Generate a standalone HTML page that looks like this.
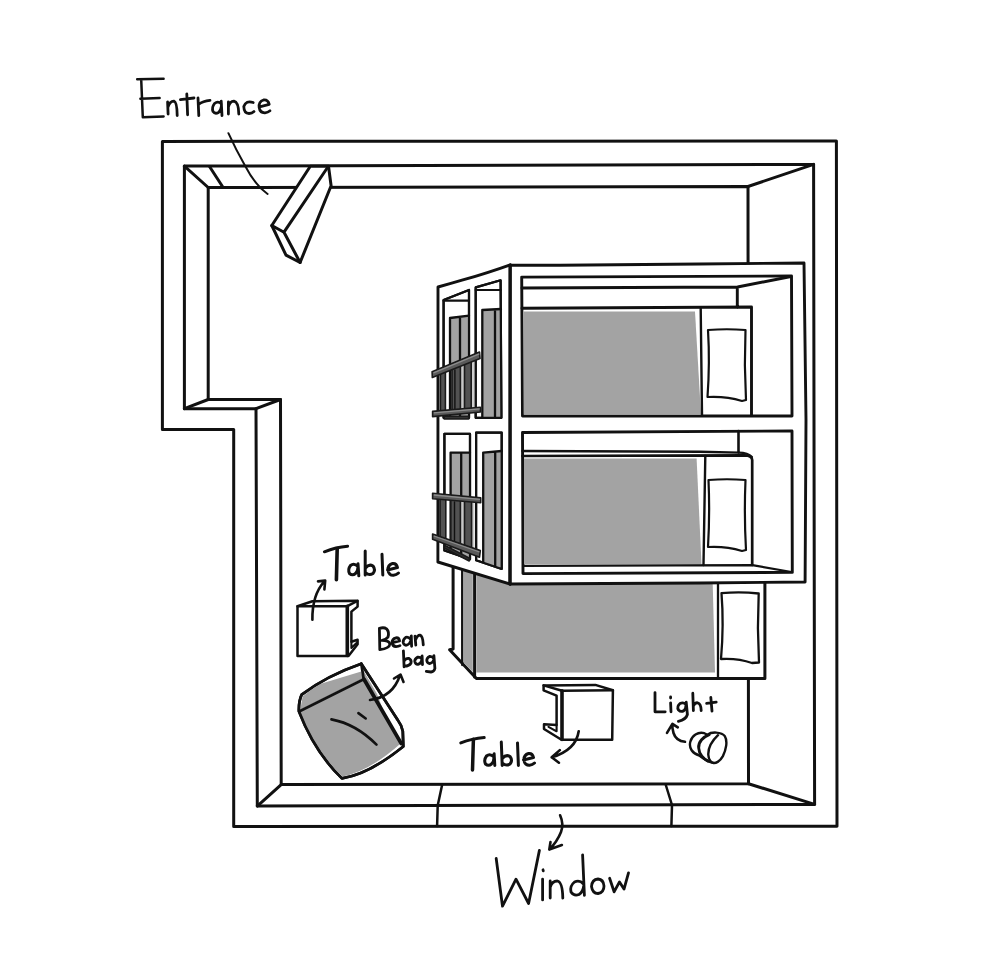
<!DOCTYPE html>
<html><head><meta charset="utf-8">
<style>
html,body{margin:0;padding:0;background:#fff;}
body{width:1000px;height:964px;overflow:hidden;font-family:"Liberation Sans",sans-serif;}
svg{display:block;}
.l{fill:none;stroke:#111;stroke-width:3;stroke-linecap:round;stroke-linejoin:round;}
.w{fill:#fff;stroke:#111;stroke-width:3;stroke-linecap:round;stroke-linejoin:round;}
.g{fill:#a3a3a3;stroke:none;}
.t{fill:none;stroke:#111;stroke-width:2.6;stroke-linecap:round;stroke-linejoin:round;}
.m{fill:none;stroke:#111;stroke-width:2.3;stroke-linecap:round;stroke-linejoin:round;}
.wm{fill:#fff;stroke:#111;stroke-width:2.3;stroke-linecap:round;stroke-linejoin:round;}
.th{fill:none;stroke:#111;stroke-width:2.3;stroke-linecap:round;stroke-linejoin:round;}
.d{fill:#5a5a5a;stroke:#1a1a1a;stroke-width:1.6;stroke-linejoin:round;}
#table1 .l,#table1 .w,#table2 .l,#table2 .w{stroke-width:2.5}
#table1 .m,#table2 .m{stroke-width:2.1}
#light .w,#light .l{stroke-width:2.4}
#bunk .w,#bunk .l{stroke-width:2.9}
#bunk .wm,#bunk .m{stroke-width:2.2}
#beanbag .l,#beanbag .w{stroke-width:2.7}
</style></head><body>
<svg width="1000" height="964" viewBox="0 0 1000 964">
<rect width="1000" height="964" fill="#fff"/>

<!-- WALLS -->
<g id="walls">
<path class="l" d="M162.4,141.4 L836.4,140.9 L837,826.3 L233.7,826.4 V429.5 H162.4 Z"/>
<path class="l" d="M184.4,166.1 L813.6,164.4 L814.6,804.4 L257.3,806.1 L256,408.7 H184.4 Z"/>
<path class="l" d="M208.2,187.5 L748,186.5 L748.5,783.7 L281.2,784.6 L280.5,399.5 H208.2 Z"/>
<path class="l" d="M184.4,166.1 L208.2,187.5 M813.6,164.4 L748,186.5 M814.6,804.4 L748.5,783.7 M257.3,806.1 L281.2,784.6 M184.4,408.7 L208.2,399.5 M256,408.7 L280.5,399.5"/>
<path class="l" d="M209.5,166.5 L222.8,187"/>
<path class="l" style="stroke-width:2.5" d="M442.1,785 L437.7,805.5 L437.1,826 M665.8,785 L672,805 L671.4,826"/>
</g>
<!-- DOOR -->
<g id="door">
<path class="w" d="M310.3,166.2 L328.5,166.2 L331.1,185.7 L300.1,262.5 L286,255.1 L271.8,225.5 Z"/>
<path class="l" d="M327.5,167.5 L284,232.2 L271.8,225.5 M284,232.2 L300.1,262.5"/>
</g>
<!-- THIRD BED -->
<g id="bed3">
<path class="w" d="M453.1,560 V649 L449.6,649.8 L476.4,678.6 H764.9 V580 Z"/>
<path class="g" d="M463.8,562 H472.8 V672 L463.8,663 Z"/>
<path class="g" d="M476.4,568 H712.3 L715,672.5 H476.4 Z"/>
<path class="m" d="M462.2,565 V665"/>
<path class="l" d="M474.6,570 V677"/>
<path class="m" d="M718,584 V678"/>
<path class="m" d="M721.5,593.2 Q740,591.5 758.7,593.5 Q757,628 759,662.5 L752,663 Q738,658 721,659 Q724,625 721.5,593.2 Z"/>
</g>
<!-- BUNK -->
<g id="bunk">
<path class="w" d="M438,287 Q450,283.8 462,280.2 Q488,272.8 510.2,264.8 V584.2 L437.9,562 Z"/>
<path class="w" d="M510.2,265.2 L560,265.2 L700,264 L804,263 L806,420 L805.1,582 L700,583 L510.2,584 Z"/>
<path class="l" d="M510.2,265 L509.9,584.2" style="stroke-width:3"/>
<!-- opening 1 -->
<path class="w" d="M521.7,277.1 L791.5,276 L792,416 H522.5 Z"/>
<path class="l" d="M522,288 L737.5,287 L791,276.5 M737.3,287.5 V307.5 M522,308.2 L751.5,307 V415"/>
<path class="g" d="M523.7,311.5 H695 L701,414.8 H523.7 Z"/>
<path class="m" d="M700.7,308.5 L702,415" style="stroke-width:2.4"/>
<path class="m" d="M708,330 Q727,328.5 745.5,330 Q744,365 746,400 L742,401 Q726,396 707.5,397 Q710,363 708,330 Z"/>
<!-- opening 2 -->
<path class="w" d="M522.5,432.5 L792,431 L792.3,572.4 L523,573.6 Z"/>
<path class="m" d="M738.5,431 V452" style="stroke-width:2.6"/>
<path class="m" d="M522.5,451 L700,451.8 L738.5,452.6" style="stroke-width:2.4"/>
<path class="l" d="M522.5,456 L745,455.4 Q752,455.6 752.2,460 V565" style="stroke-width:2.7"/>
<path class="m" d="M738.5,452.6 Q748,452.8 752,457" style="stroke-width:2.2"/>
<path class="g" d="M524,458.6 H696.6 L701.5,564 H524 Z"/>
<path class="m" d="M705.3,456 L703.5,565" style="stroke-width:2.4"/>
<path class="m" d="M523,565.9 L752.4,565.2 L791.5,572"/>
<path class="m" d="M708.5,480 Q727,478.5 745.5,480 Q744,515 746,550 L742,551 Q726,546 708,547 Q710,513 708.5,480 Z"/>
<!-- side windows -->
<path class="wm" d="M443.6,300 L469,290 V417.8 H443.6 Z"/>
<path class="m" d="M443.6,300.7 H469"/>
<path class="g" d="M450,318 L469,315.7 V417 H450 Z"/>
<path class="th" d="M450,417 V318 L469,315.7 M460,317 V417"/>
<path class="wm" style="fill:none" d="M443.6,300 L469,290 V417.8 H443.6 Z"/>
<path class="wm" d="M475.7,287.4 L500.6,280.3 L501.4,417.8 H475.7 Z"/>
<path class="m" d="M475.7,290 H500.6"/>
<path class="g" d="M482.3,310 L501,309 V417 H482.3 Z"/>
<path class="th" d="M482.3,417 V310 L501,309 M495,310 V417"/>
<path class="wm" style="fill:none" d="M475.7,287.4 L500.6,280.3 L501.4,417.8 H475.7 Z"/>
<path class="wm" d="M444.4,433.8 H470 V559.3 L444.4,550.5 Z"/>
<path class="g" d="M450.6,452.6 H470 V559 L450.6,552.5 Z"/>
<path class="th" d="M450.6,552 V452.6 H470 M461.2,453 V556"/>
<path class="wm" style="fill:none" d="M444.4,433.8 H470 V559.3 L444.4,550.5 Z"/>
<path class="wm" d="M476.1,432.7 H501.7 V569 L476.1,560.2 Z"/>
<path class="g" d="M483.2,452.6 L501.7,451 V568.5 L483.2,562.5 Z"/>
<path class="th" d="M483.2,562 V452.6 L501.7,451 M495.2,452 V566"/>
<path class="wm" style="fill:none" d="M476.1,432.7 H501.7 V569 L476.1,560.2 Z"/>
</g>
<!-- LADDERS -->
<g id="ladders">
<path class="g" style="fill:#cfcfcf" d="M471.2,362 H474.3 V408 H471.2 Z M471.4,503 H474.5 V552 H471.4 Z"/>
<path class="g" style="fill:#c6c6c6" d="M460.4,364 H464.5 V410 H460.4 Z M460.4,500 H464.5 V546 H460.4 Z"/>
<path class="d" style="fill:#525252" d="M440.4,371 H445.4 V413 H440.4 Z M452,366 H460.4 V412 H452 Z M464.5,360 H471.2 V411 H464.5 Z"/>
<path class="th" style="stroke-width:1.4" d="M454.9,370 V411"/>
<path class="d" d="M432.1,371.8 L479.5,352.1 L480,358.6 L432.3,377.5 Z"/>
<path class="d" d="M432.6,411.4 L480.3,407.2 L480.4,412 L432.6,416.6 Z"/>
<path class="d" style="fill:#333" d="M444.2,416.2 H468.7 V419 H444.2 Z"/>
<path class="d" style="fill:#525252" d="M440,497 H445.8 V539 H440 Z M450.8,498 H460.4 V545 H450.8 Z M464.5,499 H471.6 V549 H464.5 Z"/>
<path class="th" style="stroke-width:1.4" d="M454.5,502 V543"/>
<path class="d" d="M432.6,493.3 L480.7,497.9 V502.8 L432.6,498.7 Z"/>
<path class="d" d="M432.6,534 L480.3,550.6 L479.5,557.2 L432.6,539.2 Z"/>
<path class="d" style="fill:#333" d="M444.6,545.2 L469.5,558.2 L469.2,561 L444.4,548 Z"/>
<path d="M433.5,372.9 L479.3,353.9 M433.8,412.9 L479.8,408.9 M433.8,495 L480,499.4 M433.8,536 L479.5,552" style="fill:none;stroke:#8c8c8c;stroke-width:1.3"/>
</g>
<!-- TABLE 1 -->
<g id="table1">
<path class="w" d="M297.5,606.2 L312.4,601.2 L357.6,600.8 V606.6 L351.4,611.6 V641.8 L357.6,639.8 V644.3 L348.5,655.9 H297.5 Z"/>
<path class="l" d="M297.5,606.2 H347.3 M347.3,606.2 L357.4,601"/>
<path class="m" d="M351.4,641.8 V648 L356.5,643"/>
<path class="l" d="M347.3,606.2 V655.5" style="stroke-width:3.6"/>
</g>
<!-- TABLE 2 -->
<g id="table2">
<path class="w" d="M543.6,685.4 L595.3,684.9 L612.9,690.3 L612.2,739.8 H561.5 L544,729 V724.3 L556.6,725 V695.7 L543.6,690.3 Z"/>
<path class="l" d="M543.6,685.4 L562,690.8 L612.9,690.3"/>
<path class="m" d="M556.6,725 V731.3 L548.5,726.8"/>
<path class="l" d="M562,690.8 V739.5" style="stroke-width:3.6"/>
</g>
<!-- BEANBAG -->
<g id="beanbag">
<path class="w" d="M361.3,663.7 Q327,675.5 301.7,694.6 Q298.6,701 298.9,711.3 Q314.6,752.1 341.9,778.4 Q369.2,774.1 403.3,746.5 L402.8,731.2 Q401.5,725 397.9,720.3 Z"/>
<path class="g" d="M299.8,711.3 L363.7,679.3 L400.7,743.5 Q369,771.5 342.3,776.6 Q315.5,751 299.8,711.3 Z"/>
<path class="g" d="M300.3,709.8 L302.6,696.5 Q310,690 320,684 L361.2,671.6 L362.8,678.4 Z"/>
<path class="g" d="M362.3,668.5 L363.9,679 L386,717.5 L377,694 Z"/>
<path class="l" d="M361.3,663.7 Q327,675.5 301.7,694.6 Q298.6,701 298.9,711.3 Q314.6,752.1 341.9,778.4 Q369.2,774.1 403.3,746.5 L402.8,731.2 Q401.5,725 397.9,720.3 Z"/>
<path class="l" d="M299.6,711.2 L363.7,679.3 L361.3,663.7" style="stroke-width:2.7"/>
<path class="l" d="M364,679.3 L401.3,743.6" style="stroke-width:3.8"/>
<path class="t" d="M331.4,719.4 Q356,724 376.5,744.7 M358.4,713.1 L365.7,718.5"/>
</g>
<!-- LIGHT -->
<g id="light">
<path class="w" d="M 699.3,755.5 C 692.4,753.6 688.7,748.0 690.3,741.8 C 691.8,735.6 698.0,731.5 704.3,733.2 L 707.4,734.8 C 709.2,733.4 712.4,732.4 716.1,732.6 C 719.8,732.8 722.9,733.4 724.8,736.2 C 727.9,741.2 726.0,749.9 722.9,756.1 C 719.8,761.7 715.5,763.6 713.0,762.9 C 709.9,762.3 704.9,759.8 699.3,755.5 Z"/>
<path class="l" style="stroke-width:2.9" d="M 709.2,734.6 C 703.6,736.8 698.0,741.8 698.7,748.0 C 699.0,754.2 703.6,759.2 708.0,761.1"/>
<path class="l" d="M 718.0,735.2 C 712.4,740.5 708.0,748.0 708.3,754.8 C 708.6,759.8 711.1,762.9 713.6,762.9"/>
</g>
<!-- TEXT + ARROWS -->
<g id="text" class="t">
<!-- Entrance -->
<g style="stroke-width:2.8">
<path style="stroke-width:2.5" d="M137.2,79.3 L163.6,78.8 M141.2,79.3 L142.8,117.2 L163.6,116.4 M140.4,98.8 L159.6,98"/>
<path d="M167.6,102 L168.1,114 M168,107 Q170,101 174,101.2 Q177,102 177.2,115.6"/>
<path d="M186.8,94 L187.6,114.8 M180.4,99.6 L194,98"/>
<path d="M198,98 L198.8,115.6 M198.5,104.5 Q203,101 210,100.4"/>
<path d="M221.5,104 Q218,100.5 214.5,103.5 Q211.5,107.5 213,111.5 Q215,114.5 218.5,112.5 Q221,110.5 221.5,106 M221.2,101.2 L222,115.6"/>
<path d="M228.4,102 L228.4,114 M228.4,107 Q230,101 234,101.2 Q238.5,102 238.8,114"/>
<path d="M253.2,102.5 Q246,100 243.8,106.5 Q244,113.5 249,113.5 Q252,113.5 254,111.6"/>
<path d="M259.6,106.8 L269.2,104.4 Q268,99.5 263.5,100 Q258.5,101.5 259.2,107.5 Q260,113 265,112.8 Q268,112.5 270,110.8"/>
<path style="stroke-width:2.0" d="M228.4,133.2 Q236,150 245.2,166 Q255,185 267.6,194"/>
</g>
<!-- Table 1 -->
<g style="stroke-width:3.0">
<path d="M324.4,551.8 Q336,547 347.6,546.2"/><path style="stroke-width:3.6" d="M337.2,548.6 L336.4,579.8"/>
<path d="M358,566.5 Q354,562.5 350.5,565.5 Q347.5,569.5 349.5,573.5 Q352.5,576 355.5,573.5 Q358,571 358,567 M358,563.8 L358.8,575.8"/>
<path d="M365.2,551 L365.2,575 M365.5,568 Q369,563.5 373,566 Q376,570 373,573.5 Q369,576 365.5,572.5"/>
<path d="M382,554.2 L382.8,575"/>
<path d="M387.5,570 L397.5,567.5 Q396.5,563 392.5,563.5 Q387.5,565 388,570.5 Q389,575.5 393.5,575.3 Q396.5,575 398.5,573"/>
<path style="stroke-width:2.6" d="M312.4,619.8 Q312,595 324.4,581.4 M318,581.4 L325.2,580.6 L324.4,589.4"/>
</g>
<!-- Bean bag -->
<g style="stroke-width:2.8">
<path d="M379.4,628.3 L379.8,649.5 M379.4,628.3 Q384,627 386.5,628.8 Q389.5,632 388,637 Q386,639.8 382,640.3 Q389.5,640.5 389.9,644 Q389.5,648.5 379.8,649.6"/>
<path d="M392.5,642.6 L399.6,641 Q399,637.5 396,637.8 Q392,638.8 392.1,642.5 Q392.5,646.5 396,646.6 Q398.5,646.5 400,645.6"/>
<path d="M410.8,639.5 Q408.5,636.5 405.8,637.3 Q402.8,639.5 403.2,642.5 Q404,645.5 406.5,645.2 Q410,644 410.9,640.5 M411.3,635.8 L411.6,646.3"/>
<path d="M415,636.1 L415.8,645.1 M415.5,640 Q417.5,635 420,635.2 Q422.8,636 423.3,644.8"/>
<path d="M403.4,650.8 L404.1,666.9 M404.1,661 Q406,658 409,658.5 Q411.8,660 411,663 Q409.5,666 404.3,666.2"/>
<path d="M421.8,659 Q420,656.8 417.5,657.2 Q414.5,659 414.8,661.5 Q415.5,664.5 418,664.3 Q421,663.5 422,660 M422.1,656 L422.5,664.6"/>
<path d="M433.6,658.5 Q432,656.2 429.5,656.5 Q426.5,658 426.8,660.8 Q427.5,663.8 430,663.5 Q433,662.8 433.9,659.5 M433.9,655.6 L434.9,668.5 Q434,671.8 431,672 L426.3,671.4"/>
<path style="stroke-width:2.6" d="M370,700 Q393,697 400,675 M394,678.5 L400.5,674.5 L403.5,682"/>
</g>
<!-- Table 2 -->
<g style="stroke-width:3.0">
<path d="M460.8,742.9 Q472,738.5 484.2,737.5"/><path style="stroke-width:3.5" d="M473.4,739.3 L472.5,769.9"/>
<path d="M494,757 Q490,753 486.5,756 Q483.5,760 485.5,764 Q488.5,766.5 491.5,764 Q494,761.5 494,757.5 M494.1,753.7 L494.8,765.4"/>
<path d="M501.3,742 L502.2,765.4 M502.3,758.5 Q506,754 510,756.5 Q513,760.5 510,764 Q506,766.5 502.4,763"/>
<path d="M517.5,742.9 L518.4,765.4"/>
<path d="M523.5,760 L533.5,757.5 Q532.5,753 528.5,753.5 Q523.5,755 524,760.5 Q525,765.5 529.5,765.3 Q532.5,765 534.5,763"/>
<path style="stroke-width:2.6" d="M578.7,731.2 Q576,750 551.7,757.3 M559.8,750.1 L551.7,757.3 L558.9,762.7"/>
</g>
<!-- Light -->
<g style="stroke-width:2.8">
<path d="M655,692.6 L655,711.8 L665.2,711.8"/>
<path d="M670.6,697 L670.6,698 M670.6,702.8 L671,711.8"/>
<path d="M686,704.5 Q683.5,702 680,703.5 Q676.5,706.5 678.5,710 Q681,712.5 684,710.5 Q686,708.5 686,705 M686.2,702.2 L687.4,714.5 Q686,719.5 678.4,721.4"/>
<path d="M692.8,693.2 L693.4,710.6 M693.4,706 Q695,702.5 697.6,702.8 Q701,703.5 701.2,710.6"/>
<path d="M710.8,697.4 L712,711.2 M706.6,703.4 L716.2,702.2"/>
<path style="stroke-width:2.6" d="M685,741.8 Q676,741 673.5,733 Q672,728 672.4,724.4 M667,732.8 L672.4,723.8 L677.8,727.4"/>
</g>
<!-- Window -->
<g style="stroke-width:2.8">
<path d="M496.2,858.5 L502.5,906.2 L516,879.2 L528.6,903.5 L539.4,850.4"/>
<path d="M543,869.8 L543.3,870.8 M542.6,879.2 L542.6,899.9"/>
<path d="M550.2,881 L550.2,898.1 M550.3,887 Q552,881 557.4,881 Q562.5,882 562.8,898.1"/>
<path d="M583.5,884 Q579.5,879.5 574.5,882 Q569.5,886 571,892 Q574,896.5 579,894.5 Q583,892 583.7,886 M582.6,854.9 L584.4,895.4"/>
<path d="M598,879 Q592,879.5 591.5,886.5 Q592.5,893.5 598,893.5 Q604,892.5 604,886 Q603.5,879.5 598,879 Z"/>
<path d="M609.6,878.3 L614.1,891.8 L619.5,881.9 L624,889.1 L628.5,872.9"/>
<path style="stroke-width:2.6" d="M560.1,815.3 Q564,824 561,832 Q557,842 549.3,849.5 M550.5,842 L549.3,849.5 L561.9,845"/>
</g>
</g>
</svg>
</body></html>
